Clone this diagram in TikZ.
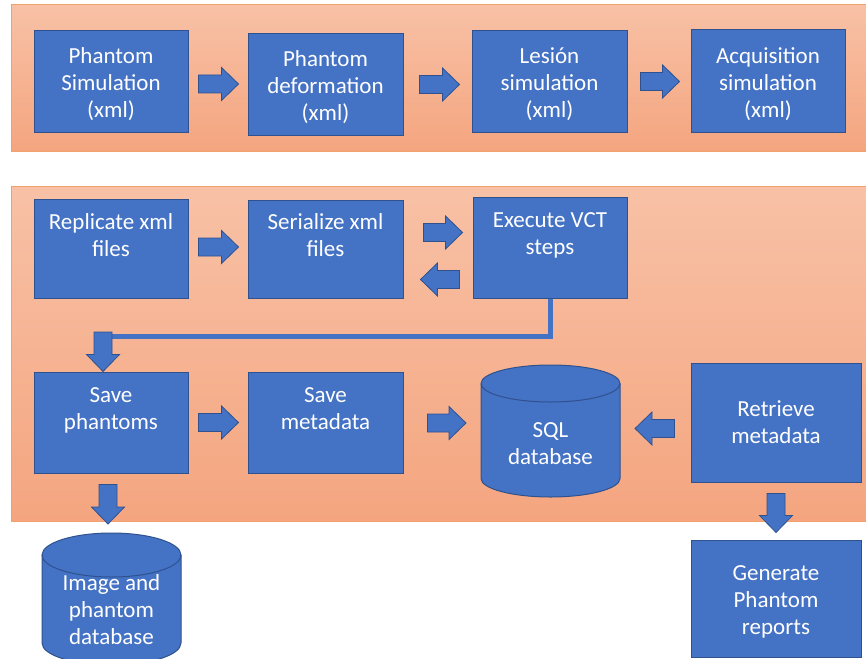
\documentclass[tikz,border=0pt]{standalone}
\usepackage{fontspec}
\setmainfont{Carlito}
\usetikzlibrary{calc}
\definecolor{boxfill}{HTML}{4472C4}
\definecolor{boxdraw}{HTML}{2F528F}
\definecolor{pantop}{HTML}{F8C1A6}
\definecolor{panbot}{HTML}{F4A57F}
\definecolor{panline}{HTML}{F2A06C}
\newcommand\blockarr[2]{%
  \path #1 coordinate (bs) #2 coordinate (bt);
  \coordinate (bh) at ($(bt)!17pt!(bs)$);
  \filldraw[barrowsty] ($(bs)!9pt!90:(bt)$) -- ($(bh)!9pt!-90:(bs)$) -- ($(bh)!16.5pt!-90:(bs)$) -- (bt) -- ($(bh)!16.5pt!90:(bs)$) -- ($(bh)!9pt!90:(bs)$) -- ($(bs)!9pt!-90:(bt)$) -- cycle;}
\begin{document}
\begin{tikzpicture}[x=1pt,y=-1pt,
  box/.style={draw=boxdraw, fill=boxfill, line width=1pt, inner sep=0pt, text=white, align=center, font=\fontsize{23}{27}\selectfont},
  three/.style={text depth=0pt, execute at begin node={\vspace*{5pt}}},
  txt/.style={inner sep=0pt, text=white, align=center, font=\fontsize{23}{27}\selectfont},
  panel/.style={draw=panline, line width=1pt, top color=pantop, bottom color=panbot},
  barrowsty/.style={fill=boxfill, draw=boxdraw, line width=0.8pt, line join=miter},
  conn/.style={draw=boxfill, line width=5pt},
  cyl/.style={fill=boxfill, draw=boxdraw, line width=1pt},
  holder/.style={inner sep=0pt, outer sep=0pt}
]
\useasboundingbox (0,0) rectangle (866,658);
\fill[white] (0,0) rectangle (866,658);
\path[panel] (11,5) rectangle (872,151);
\path[panel] (11,186) rectangle (872,521);

% top row
\node[box, minimum width=154pt, minimum height=101pt] (ps1) at (111,81.5) {};
\node[txt] at (111,84.5) {Phantom\\Simulation\\(xml)};
\node[box, minimum width=155pt, minimum height=101pt] (pdf) at (325.5,84.5) {};
\node[txt] at (325.5,87.5) {Phantom\\deformation\\(xml)};
\node[box, minimum width=155pt, minimum height=101pt] (les) at (549.5,81.5) {};
\node[txt] at (549.5,84.5) {Lesión\\simulation\\(xml)};
\node[box, minimum width=154pt, minimum height=102pt] (acq) at (768,81) {};
\node[txt] at (768,84) {Acquisition\\simulation\\(xml)};

% second row
\node[box, minimum width=154pt, minimum height=99pt] (rep) at (111,248.5) {Replicate xml\\files\\\mbox{}};
\node[box, minimum width=155pt, minimum height=98pt] (ser) at (325.5,249) {Serialize xml\\files\\\mbox{}};
\node[box, minimum width=154pt, minimum height=101pt] (exe) at (550,247.5) {Execute VCT\\steps\\\mbox{}};

% third row
\node[box, minimum width=154pt, minimum height=101pt] (sph) at (111,422.5) {Save\\phantoms\\\mbox{}};
\node[box, minimum width=155pt, minimum height=101pt] (smd) at (325.5,422.5) {Save\\metadata\\\mbox{}};
\node[box, minimum width=170pt, minimum height=119pt] (ret) at (776,422.5) {Retrieve\\metadata};
\node[box, minimum width=170pt, minimum height=117pt] (gen) at (776,598.5) {};
\node[txt] at (776,601.5) {Generate\\Phantom\\reports};

% SQL database cylinder
\node[holder, minimum width=139pt, minimum height=132pt] (sql) at (550.5,431) {};
\filldraw[cyl] (481,383.5) -- (481,478.5) arc[start angle=180,end angle=360,x radius=69.5pt,y radius=18.5pt] -- (620,383.5) arc[start angle=0,end angle=180,x radius=69.5pt,y radius=18.5pt] -- cycle;
\draw[cyl, fill=none] (481,383.5) arc[start angle=180,end angle=360,x radius=69.5pt,y radius=18.5pt];
\node[txt] (sqlt) at (550.5,443.5) {SQL\\database};

% Image and phantom database cylinder
\node[holder, minimum width=139pt, minimum height=129pt] (img) at (111.5,597.5) {};
\filldraw[cyl] (42,555) -- (42,643) arc[start angle=180,end angle=360,x radius=69.5pt,y radius=22pt] -- (181,555) arc[start angle=0,end angle=180,x radius=69.5pt,y radius=22pt] -- cycle;
\draw[cyl, fill=none] (42,555) arc[start angle=180,end angle=360,x radius=69.5pt,y radius=22pt];
\node[txt] (imgt) at (111.5,610) {Image and\\phantom\\database};

% connector from Execute VCT steps to Save phantoms
\coordinate (elb) at (103,336);
\draw[conn] (exe.south) |- (elb);

% block arrows
\blockarr{(ps1.east) ++(10,2.5)}{(pdf.west |- ps1.east) ++(-9,2.5)}
\blockarr{(pdf.east) ++(16,0)}{(les.west |- pdf.east) ++(-12,0)}
\blockarr{(les.east) ++(13,0)}{(acq.west |- les.east) ++(-11,0)}
\blockarr{(rep.east) ++(10,-1.5)}{(ser.west |- rep.east) ++(-9,-1.5)}
\blockarr{(ser.east) ++(20,-16.5)}{(exe.west |- ser.east) ++(-10,-16.5)}
\blockarr{(exe.west) ++(-13,32)}{(ser.east |- exe.west) ++(17,32)}
\blockarr{(sph.east) ++(10,0)}{(smd.west |- sph.east) ++(-9,0)}
\blockarr{(smd.east) ++(24,0.5)}{(sql.west |- smd.east) ++(-15,0.5)}
\blockarr{(ret.west) ++(-16,6)}{(sql.east |- ret.west) ++(15,6)}
\blockarr{(sph.south) ++(-3,11)}{(img.north) ++(-3.5,-9)}
\blockarr{(ret.south) ++(0,11)}{(gen.north) ++(0,-7)}
\blockarr{(elb) ++(0,-4)}{(sph.north -| elb)}
\end{tikzpicture}
\end{document}
